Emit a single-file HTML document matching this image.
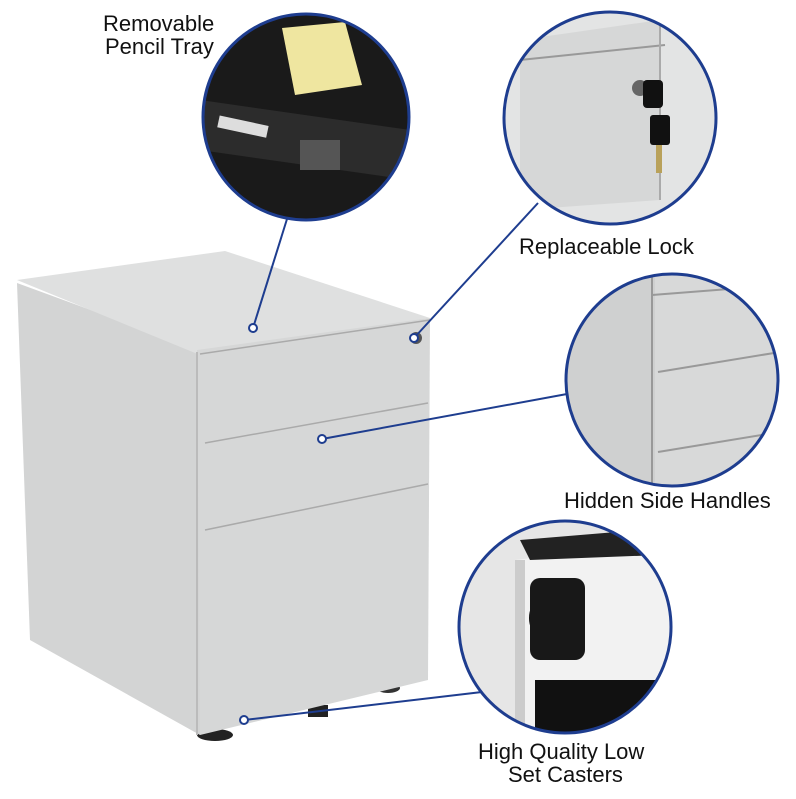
<!DOCTYPE html>
<html><head><style>
body{margin:0;background:#fff;width:796px;height:799px;overflow:hidden}
svg{display:block}
text{font-family:"Liberation Sans",sans-serif;font-size:22px;fill:#111}
</style></head><body>
<svg width="796" height="799" viewBox="0 0 796 799">
<defs>
<clipPath id="c1"><circle cx="306" cy="117" r="103"/></clipPath>
<clipPath id="c2"><circle cx="610" cy="118" r="106"/></clipPath>
<clipPath id="c3"><circle cx="672" cy="380" r="106"/></clipPath>
<clipPath id="c4"><circle cx="565" cy="627" r="106"/></clipPath>
</defs>
<ellipse cx="50" cy="640" rx="8" ry="5" fill="#333"/>
<ellipse cx="388" cy="688" rx="12" ry="5" fill="#333"/>
<rect x="308" y="705" width="20" height="12" fill="#222"/>
<ellipse cx="215" cy="735" rx="18" ry="6" fill="#222"/>
<polygon points="17,283 200,350 200,735 30,640" fill="#d3d4d4"/>
<polygon points="17,280 225,251 430,318 200,355" fill="#dfe0e0"/>
<polygon points="197,350 430,318 428,680 200,735" fill="#d6d7d7"/>
<line x1="197" y1="352" x2="197" y2="735" stroke="#bbb" stroke-width="2"/>
<line x1="200" y1="354" x2="430" y2="320" stroke="#aaa" stroke-width="1.5"/>
<line x1="205" y1="443" x2="428" y2="403" stroke="#aaa" stroke-width="1.5"/>
<line x1="205" y1="530" x2="428" y2="484" stroke="#aaa" stroke-width="1.5"/>
<circle cx="416" cy="338" r="6" fill="#555"/>
<g stroke="#1e3d8f" stroke-width="2" fill="none">
<line x1="253" y1="328" x2="287" y2="219"/>
<line x1="414" y1="338" x2="538" y2="203"/>
<line x1="322" y1="439" x2="567" y2="394"/>
<line x1="244" y1="720" x2="482" y2="692"/>
</g>
<g fill="#fff" stroke="#1e3d8f" stroke-width="2">
<circle cx="253" cy="328" r="4"/><circle cx="414" cy="338" r="4"/>
<circle cx="322" cy="439" r="4"/><circle cx="244" cy="720" r="4"/>
</g>
<g clip-path="url(#c1)">
<rect x="190" y="0" width="240" height="230" fill="#1a1a1a"/>
<polygon points="282,28 345,22 362,85 295,95" fill="#efe6a0"/>
<polygon points="200,100 410,130 410,180 200,150" fill="#2c2c2c"/>
<rect x="218" y="120" width="50" height="12" fill="#ddd" transform="rotate(12 240 126)"/>
<rect x="300" y="140" width="40" height="30" fill="#555"/>
</g>
<circle cx="306" cy="117" r="103" fill="none" stroke="#1e3d8f" stroke-width="3"/>
<g clip-path="url(#c2)">
<rect x="500" y="0" width="230" height="240" fill="#e3e4e4"/>
<polygon points="520,40 660,20 660,200 520,210" fill="#d6d7d7"/>
<line x1="520" y1="60" x2="665" y2="45" stroke="#999" stroke-width="2"/>
<line x1="660" y1="20" x2="660" y2="200" stroke="#aaa" stroke-width="2"/>
<circle cx="640" cy="88" r="8" fill="#666"/>
<rect x="643" y="80" width="20" height="28" rx="4" fill="#111"/>
<rect x="650" y="115" width="20" height="30" rx="3" fill="#111"/>
<rect x="656" y="145" width="6" height="28" fill="#b9a15a"/>
</g>
<circle cx="610" cy="118" r="106" fill="none" stroke="#1e3d8f" stroke-width="3"/>
<g clip-path="url(#c3)">
<rect x="560" y="270" width="230" height="230" fill="#d8d9d9"/>
<rect x="560" y="270" width="95" height="230" fill="#cfd0d0"/>
<line x1="652" y1="270" x2="652" y2="500" stroke="#999" stroke-width="2"/>
<line x1="652" y1="295" x2="780" y2="285" stroke="#999" stroke-width="2"/>
<line x1="658" y1="372" x2="780" y2="352" stroke="#999" stroke-width="2"/>
<line x1="658" y1="452" x2="780" y2="432" stroke="#999" stroke-width="2"/>
</g>
<circle cx="672" cy="380" r="106" fill="none" stroke="#1e3d8f" stroke-width="3"/>
<g clip-path="url(#c4)">
<rect x="455" y="515" width="225" height="225" fill="#e6e6e6"/>
<polygon points="515,560 680,540 680,740 515,740" fill="#f2f2f2"/>
<rect x="535" y="680" width="150" height="60" fill="#111"/>
<rect x="515" y="560" width="10" height="180" fill="#ccc"/>
<circle cx="557" cy="618" r="28" fill="#111"/>
<rect x="530" y="578" width="55" height="82" rx="10" fill="#181818"/>
<polygon points="520,540 640,530 660,555 530,560" fill="#222"/>
</g>
<circle cx="565" cy="627" r="106" fill="none" stroke="#1e3d8f" stroke-width="3"/>
<text x="103" y="31">Removable</text>
<text x="105" y="54">Pencil Tray</text>
<text x="519" y="254">Replaceable Lock</text>
<text x="564" y="508">Hidden Side Handles</text>
<text x="478" y="759">High Quality Low</text>
<text x="508" y="782">Set Casters</text>
</svg>
</body></html>
